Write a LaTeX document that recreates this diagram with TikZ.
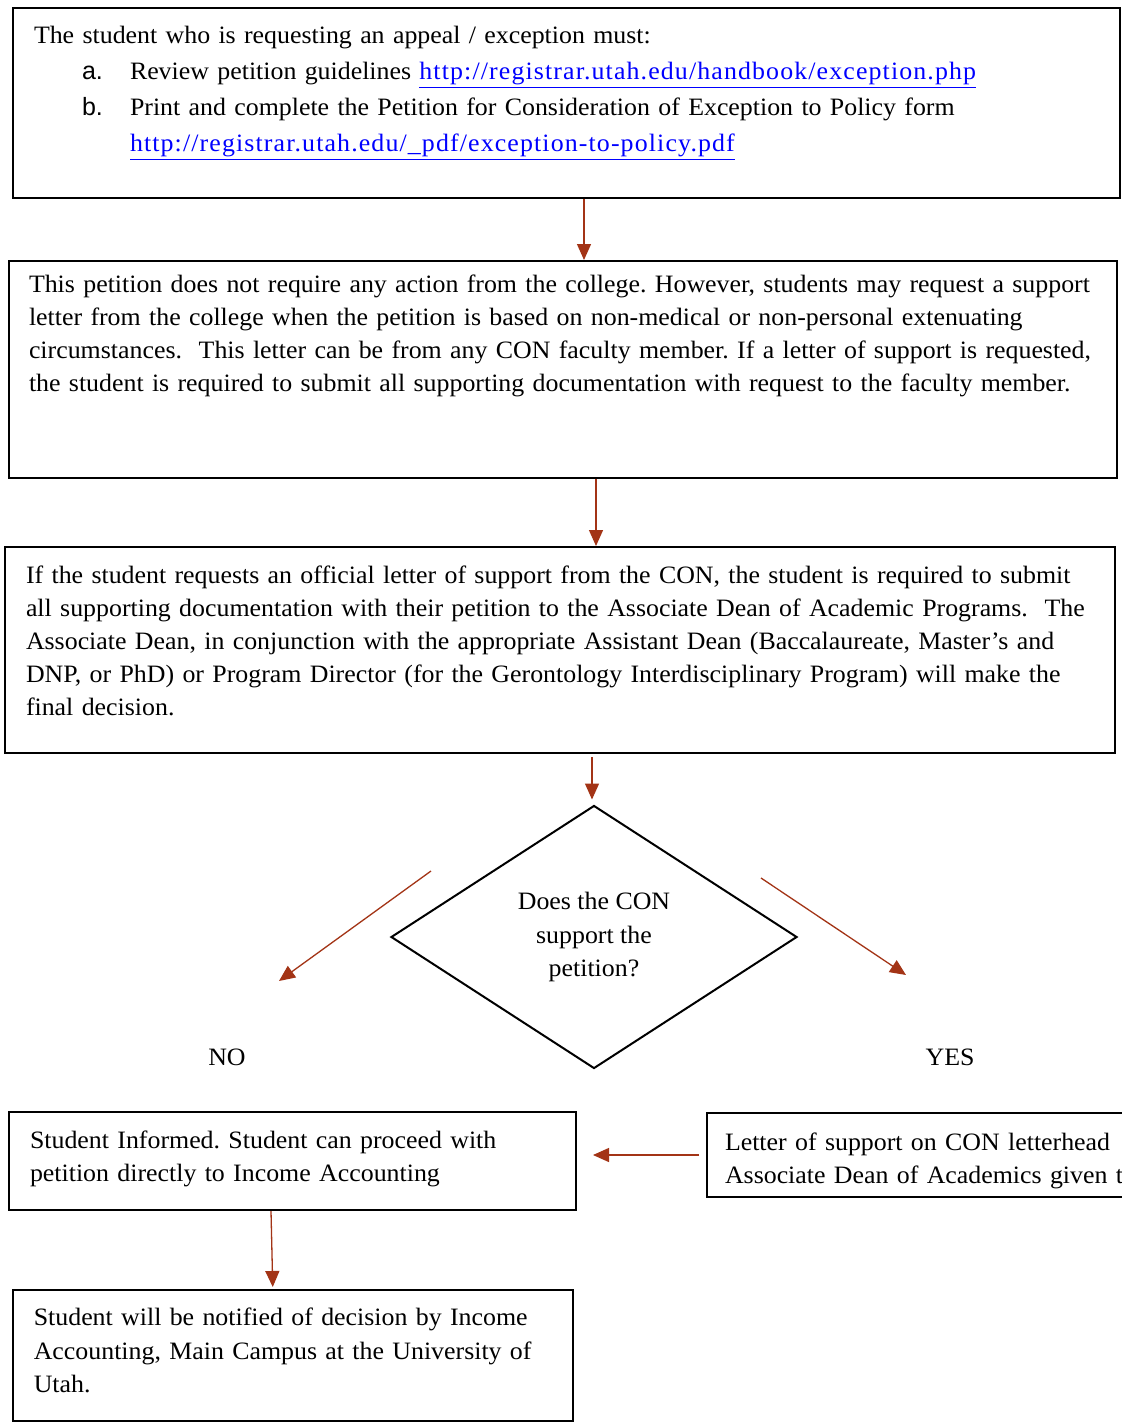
\documentclass[tikz,border=0pt]{standalone}
\usepackage{fontspec}
\setmainfont{Liberation Serif}[FakeStretch=1.035]
\setsansfont{Liberation Sans}
\usetikzlibrary{positioning,arrows.meta,shapes.geometric}
\definecolor{arrowcol}{RGB}{163,52,22}
\definecolor{linkcol}{RGB}{0,0,255}
\newcommand{\weblink}[1]{{\color{linkcol}\addfontfeature{LetterSpace=4.5}\underline{#1}}}
\frenchspacing

\begin{document}
\begin{tikzpicture}[
  x=0.5pt, y=-0.5pt,
  every node/.style={font=\fontsize{12.5}{16.6}\selectfont},
  box/.style={draw=black, line width=1pt, anchor=north west, align=left, inner xsep=10.5pt, inner ysep=0pt},
  decision/.style={diamond, draw=black, line width=1pt, inner sep=0pt, align=center,
    minimum width=203pt, minimum height=131.5pt},
  arr/.style={-{Triangle[length=8pt,width=7pt]}, line width=0.65pt, arrowcol},
  answer/.style={inner sep=0pt}
]
\useasboundingbox (0,0) rectangle (1121,1424);
\fill[white] (0,0) rectangle (1121,1424);

% =================== student request ===================
\node[box, text width=532.5pt, text height=17.5pt, text depth=77.5pt,
  font=\fontsize{12.5}{18}\selectfont] (req) at (12,7)
  {The student who is requesting an appeal / exception must:\\
   \hspace*{24pt}\makebox[24pt][l]{\sffamily a.}Review petition guidelines \weblink{http://registrar.utah.edu/handbook/exception.php}\\
   \hspace*{24pt}\makebox[24pt][l]{\sffamily b.}Print and complete the Petition for Consideration of Exception to Policy form\\
   \hspace*{48pt}\weblink{http://registrar.utah.edu/\_pdf/exception-to-policy.pdf}};

% =================== college action ===================
\node[box, inner xsep=10pt, text width=534pt, text height=15.5pt, text depth=93pt] (college) at (8,260)
  {This petition does not require any action from the college. However, students may request a support\\
   letter from the college when the petition is based on non-medical or non-personal extenuating\\
   circumstances.\ \ This letter can be from any CON faculty member. If a letter of support is requested,\\
   the student is required to submit all supporting documentation with request to the faculty member.};

% =================== official letter ===================
\node[box, text width=534pt, text height=18pt, text depth=85pt] (official) at (4,546)
  {If the student requests an official letter of support from the CON, the student is required to submit\\
   all supporting documentation with their petition to the Associate Dean of Academic Programs.\ \ The\\
   Associate Dean, in conjunction with the appropriate Assistant Dean (Baccalaureate, Master's and\\
   DNP, or PhD) or Program Director (for the Gerontology Interdisciplinary Program) will make the\\
   final decision.};

% =================== decision ===================
\node[decision] (support) at (594,937) {Does the CON\\ support the\\ petition?};
\node[answer] (no) at (227,1057) {NO};
\node[answer] (yes) at (950,1057) {YES};
\coordinate (noA) at (431,871);
\coordinate (noB) at (279,981);
\coordinate (yesA) at (761,878);
\coordinate (yesB) at (906,975);

% =================== outcomes ===================
\node[box, text width=262.5pt, text height=18pt, text depth=31pt] (informed) at (8,1111)
  {Student Informed. Student can proceed with\\
   petition directly to Income Accounting};
\node[box, inner xsep=9pt, text width=282pt, text height=18.5pt, text depth=23.5pt] (letter) at (706,1112)
  {Letter of support on CON letterhead\\
   Associate Dean of Academics given to};
\node[box, line width=0.8pt, text width=259pt, text height=18pt, text depth=47.5pt] (notified) at (12,1289)
  {Student will be notified of decision by Income\\
   Accounting, Main Campus at the University of\\
   Utah.};

% =================== arrows ===================
\draw[arr] ([xshift=8.75pt]req.south) -- ([xshift=8.75pt]req.south |- college.north);
\draw[arr] ([xshift=16.5pt]college.south) -- ([xshift=16.5pt]college.south |- official.north);
\draw[arr, shorten <=1.5pt, shorten >=2.5pt] ([xshift=16pt]official.south) -- ([xshift=16pt]official.south |- support.north);
\draw[arr] (noA) -- (noB);
\draw[arr] (yesA) -- (yesB);
\draw[arr, shorten <=3.5pt, shorten >=8pt] (letter.west) -- (letter.west -| informed.east);
\draw[arr, shorten >=1pt] ([xshift=-10.75pt]informed.south) -- ([xshift=-10pt]notified.north);

\end{tikzpicture}
\end{document}
